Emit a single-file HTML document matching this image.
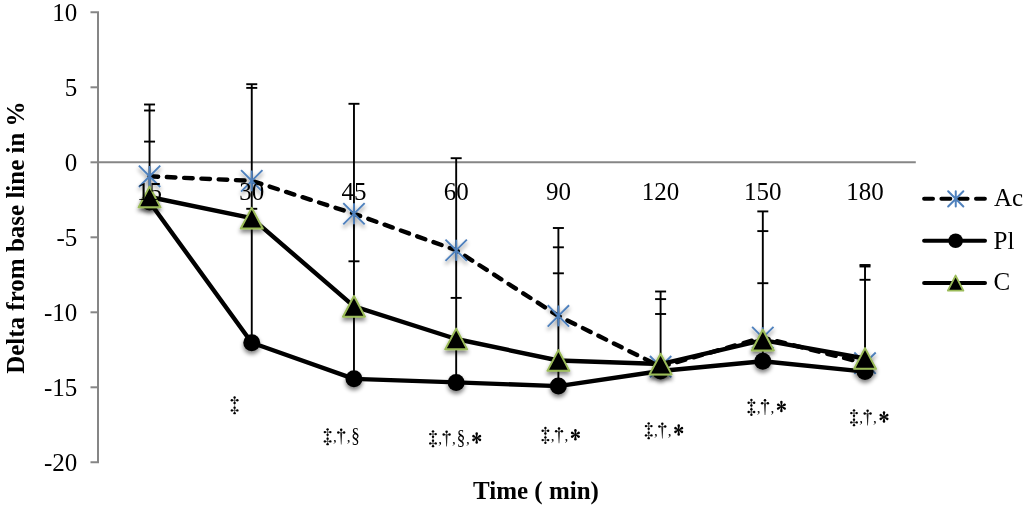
<!DOCTYPE html>
<html><head><meta charset="utf-8"><style>
html,body{margin:0;padding:0;background:#fff;width:1024px;height:508px;overflow:hidden}
svg{display:block;will-change:transform}
text{font-family:"Liberation Serif",serif;fill:#000}
</style></head><body>
<svg width="1024" height="508" viewBox="0 0 1024 508">
<defs>
<filter id="sh" x="-20%" y="-20%" width="140%" height="140%">
<feGaussianBlur in="SourceAlpha" stdDeviation="2.2"/>
<feOffset dx="0" dy="3" result="b"/>
<feComponentTransfer><feFuncA type="linear" slope="0.5"/></feComponentTransfer>
<feMerge><feMergeNode/><feMergeNode in="SourceGraphic"/></feMerge>
</filter>
</defs>
<rect width="1024" height="508" fill="#fff"/>

<g stroke="#868686" stroke-width="2" fill="none">
<path d="M90.5 12.3H98.0V462.3H90.5"/>
<path d="M90.5 87.3H98.0"/>
<path d="M90.5 162.3H98.0"/>
<path d="M90.5 237.3H98.0"/>
<path d="M90.5 312.3H98.0"/>
<path d="M90.5 387.3H98.0"/>
<path d="M98.0 162.3H915.8"/>
</g>
<g font-size="25" text-anchor="end">
<text x="77.3" y="20.5">10</text>
<text x="77.3" y="95.5">5</text>
<text x="77.3" y="170.5">0</text>
<text x="77.3" y="245.5">-5</text>
<text x="77.3" y="320.5">-10</text>
<text x="77.3" y="395.5">-15</text>
<text x="77.3" y="470.5">-20</text>
</g>
<g stroke="#000" stroke-width="1.9" fill="none">
<path d="M149.55 104.5V202.0"/>
<path d="M144.05 104.5H155.05"/>
<path d="M144.05 110.5H155.05"/>
<path d="M144.05 141.6H155.05"/>
<path d="M251.76 84.2V342.7"/>
<path d="M246.26 84.2H257.26"/>
<path d="M246.26 87.9H257.26"/>
<path d="M246.26 208.8H257.26"/>
<path d="M353.97 103.8V378.9"/>
<path d="M348.47 103.8H359.47"/>
<path d="M348.47 261.3H359.47"/>
<path d="M456.18 158.2V382.4"/>
<path d="M450.68 158.2H461.68"/>
<path d="M450.68 297.9H461.68"/>
<path d="M558.39 228.0V386.1"/>
<path d="M552.89 228.0H563.89"/>
<path d="M552.89 247.3H563.89"/>
<path d="M552.89 273.3H563.89"/>
<path d="M660.60 291.5V371.0"/>
<path d="M655.10 291.5H666.10"/>
<path d="M655.10 299.1H666.10"/>
<path d="M655.10 314.0H666.10"/>
<path d="M762.81 211.4V361.2"/>
<path d="M757.31 211.4H768.31"/>
<path d="M757.31 231.1H768.31"/>
<path d="M757.31 283.2H768.31"/>
<path d="M865.02 265.0V371.6"/>
<path d="M859.52 265.0H870.52"/>
<path d="M859.52 266.5H870.52"/>
<path d="M859.52 279.8H870.52"/>
</g>
<g fill="#000">
<path d="M234.60 400.25V410.39" stroke="#999" stroke-width="0.9"/><path d="M234.60 400.25L234.60 397.50" stroke="#555" stroke-width="0.9"/><circle cx="234.60" cy="397.50" r="1.2"/><path d="M234.60 400.25L231.85 400.25" stroke="#555" stroke-width="0.9"/><circle cx="231.85" cy="400.25" r="1.2"/><path d="M234.60 400.25L237.35 400.25" stroke="#555" stroke-width="0.9"/><circle cx="237.35" cy="400.25" r="1.2"/><path d="M234.60 400.25L234.60 403.00" stroke="#555" stroke-width="0.9"/><circle cx="234.60" cy="403.00" r="1.2"/><path d="M234.60 410.39L234.60 407.64" stroke="#555" stroke-width="0.9"/><circle cx="234.60" cy="407.64" r="1.2"/><path d="M234.60 410.39L231.85 410.39" stroke="#555" stroke-width="0.9"/><circle cx="231.85" cy="410.39" r="1.2"/><path d="M234.60 410.39L237.35 410.39" stroke="#555" stroke-width="0.9"/><circle cx="237.35" cy="410.39" r="1.2"/><path d="M234.60 410.39L234.60 413.14" stroke="#555" stroke-width="0.9"/><circle cx="234.60" cy="413.14" r="1.2"/>
<path d="M327.60 432.10V441.40" stroke="#999" stroke-width="0.9"/><path d="M327.60 432.10L327.60 429.35" stroke="#555" stroke-width="0.9"/><circle cx="327.60" cy="429.35" r="1.2"/><path d="M327.60 432.10L324.85 432.10" stroke="#555" stroke-width="0.9"/><circle cx="324.85" cy="432.10" r="1.2"/><path d="M327.60 432.10L330.35 432.10" stroke="#555" stroke-width="0.9"/><circle cx="330.35" cy="432.10" r="1.2"/><path d="M327.60 432.10L327.60 434.85" stroke="#555" stroke-width="0.9"/><circle cx="327.60" cy="434.85" r="1.2"/><path d="M327.60 441.40L327.60 438.65" stroke="#555" stroke-width="0.9"/><circle cx="327.60" cy="438.65" r="1.2"/><path d="M327.60 441.40L324.85 441.40" stroke="#555" stroke-width="0.9"/><circle cx="324.85" cy="441.40" r="1.2"/><path d="M327.60 441.40L330.35 441.40" stroke="#555" stroke-width="0.9"/><circle cx="330.35" cy="441.40" r="1.2"/><path d="M327.60 441.40L327.60 444.15" stroke="#555" stroke-width="0.9"/><circle cx="327.60" cy="444.15" r="1.2"/>
<text x="332.90" y="441.95" font-size="15">,</text>
<path d="M340.20 432.60L342.20 432.60L341.50 444.50L340.90 444.50Z" fill="#222"/><path d="M341.20 432.60L341.20 429.70" stroke="#555" stroke-width="0.9"/><circle cx="341.20" cy="429.70" r="1.25"/><path d="M341.20 432.60L338.30 432.60" stroke="#555" stroke-width="0.9"/><circle cx="338.30" cy="432.60" r="1.25"/><path d="M341.20 432.60L344.10 432.60" stroke="#555" stroke-width="0.9"/><circle cx="344.10" cy="432.60" r="1.25"/>
<text x="346.70" y="441.95" font-size="15">,</text>
<text transform="translate(355.60 442.30) scale(0.85 1)" font-size="20" text-anchor="middle">§</text>
<path d="M433.00 434.10V443.40" stroke="#999" stroke-width="0.9"/><path d="M433.00 434.10L433.00 431.35" stroke="#555" stroke-width="0.9"/><circle cx="433.00" cy="431.35" r="1.2"/><path d="M433.00 434.10L430.25 434.10" stroke="#555" stroke-width="0.9"/><circle cx="430.25" cy="434.10" r="1.2"/><path d="M433.00 434.10L435.75 434.10" stroke="#555" stroke-width="0.9"/><circle cx="435.75" cy="434.10" r="1.2"/><path d="M433.00 434.10L433.00 436.85" stroke="#555" stroke-width="0.9"/><circle cx="433.00" cy="436.85" r="1.2"/><path d="M433.00 443.40L433.00 440.65" stroke="#555" stroke-width="0.9"/><circle cx="433.00" cy="440.65" r="1.2"/><path d="M433.00 443.40L430.25 443.40" stroke="#555" stroke-width="0.9"/><circle cx="430.25" cy="443.40" r="1.2"/><path d="M433.00 443.40L435.75 443.40" stroke="#555" stroke-width="0.9"/><circle cx="435.75" cy="443.40" r="1.2"/><path d="M433.00 443.40L433.00 446.15" stroke="#555" stroke-width="0.9"/><circle cx="433.00" cy="446.15" r="1.2"/>
<text x="438.30" y="443.95" font-size="15">,</text>
<path d="M445.60 434.60L447.60 434.60L446.90 446.50L446.30 446.50Z" fill="#222"/><path d="M446.60 434.60L446.60 431.70" stroke="#555" stroke-width="0.9"/><circle cx="446.60" cy="431.70" r="1.25"/><path d="M446.60 434.60L443.70 434.60" stroke="#555" stroke-width="0.9"/><circle cx="443.70" cy="434.60" r="1.25"/><path d="M446.60 434.60L449.50 434.60" stroke="#555" stroke-width="0.9"/><circle cx="449.50" cy="434.60" r="1.25"/>
<text x="452.10" y="443.95" font-size="15">,</text>
<text transform="translate(461.00 444.30) scale(0.85 1)" font-size="20" text-anchor="middle">§</text>
<text x="465.90" y="443.95" font-size="15">,</text>
<path transform="translate(476.70 438.00) rotate(-90)" d="M0 -0.35L4.5 -1.25A1.25 1.25 0 0 1 4.5 1.25L0 0.35Z"/><path transform="translate(476.70 438.00) rotate(90)" d="M0 -0.35L4.5 -1.25A1.25 1.25 0 0 1 4.5 1.25L0 0.35Z"/><path transform="translate(476.70 438.00) rotate(-30)" d="M0 -0.35L3.8 -1.25A1.25 1.25 0 0 1 3.8 1.25L0 0.35Z"/><path transform="translate(476.70 438.00) rotate(30)" d="M0 -0.35L3.8 -1.25A1.25 1.25 0 0 1 3.8 1.25L0 0.35Z"/><path transform="translate(476.70 438.00) rotate(150)" d="M0 -0.35L3.8 -1.25A1.25 1.25 0 0 1 3.8 1.25L0 0.35Z"/><path transform="translate(476.70 438.00) rotate(210)" d="M0 -0.35L3.8 -1.25A1.25 1.25 0 0 1 3.8 1.25L0 0.35Z"/>
<path d="M545.40 430.80V440.10" stroke="#999" stroke-width="0.9"/><path d="M545.40 430.80L545.40 428.05" stroke="#555" stroke-width="0.9"/><circle cx="545.40" cy="428.05" r="1.2"/><path d="M545.40 430.80L542.65 430.80" stroke="#555" stroke-width="0.9"/><circle cx="542.65" cy="430.80" r="1.2"/><path d="M545.40 430.80L548.15 430.80" stroke="#555" stroke-width="0.9"/><circle cx="548.15" cy="430.80" r="1.2"/><path d="M545.40 430.80L545.40 433.55" stroke="#555" stroke-width="0.9"/><circle cx="545.40" cy="433.55" r="1.2"/><path d="M545.40 440.10L545.40 437.35" stroke="#555" stroke-width="0.9"/><circle cx="545.40" cy="437.35" r="1.2"/><path d="M545.40 440.10L542.65 440.10" stroke="#555" stroke-width="0.9"/><circle cx="542.65" cy="440.10" r="1.2"/><path d="M545.40 440.10L548.15 440.10" stroke="#555" stroke-width="0.9"/><circle cx="548.15" cy="440.10" r="1.2"/><path d="M545.40 440.10L545.40 442.85" stroke="#555" stroke-width="0.9"/><circle cx="545.40" cy="442.85" r="1.2"/>
<text x="550.70" y="440.65" font-size="15">,</text>
<path d="M558.00 431.30L560.00 431.30L559.30 443.20L558.70 443.20Z" fill="#222"/><path d="M559.00 431.30L559.00 428.40" stroke="#555" stroke-width="0.9"/><circle cx="559.00" cy="428.40" r="1.25"/><path d="M559.00 431.30L556.10 431.30" stroke="#555" stroke-width="0.9"/><circle cx="556.10" cy="431.30" r="1.25"/><path d="M559.00 431.30L561.90 431.30" stroke="#555" stroke-width="0.9"/><circle cx="561.90" cy="431.30" r="1.25"/>
<text x="564.50" y="440.65" font-size="15">,</text>
<path transform="translate(575.40 434.70) rotate(-90)" d="M0 -0.35L4.5 -1.25A1.25 1.25 0 0 1 4.5 1.25L0 0.35Z"/><path transform="translate(575.40 434.70) rotate(90)" d="M0 -0.35L4.5 -1.25A1.25 1.25 0 0 1 4.5 1.25L0 0.35Z"/><path transform="translate(575.40 434.70) rotate(-30)" d="M0 -0.35L3.8 -1.25A1.25 1.25 0 0 1 3.8 1.25L0 0.35Z"/><path transform="translate(575.40 434.70) rotate(30)" d="M0 -0.35L3.8 -1.25A1.25 1.25 0 0 1 3.8 1.25L0 0.35Z"/><path transform="translate(575.40 434.70) rotate(150)" d="M0 -0.35L3.8 -1.25A1.25 1.25 0 0 1 3.8 1.25L0 0.35Z"/><path transform="translate(575.40 434.70) rotate(210)" d="M0 -0.35L3.8 -1.25A1.25 1.25 0 0 1 3.8 1.25L0 0.35Z"/>
<path d="M648.70 426.10V435.40" stroke="#999" stroke-width="0.9"/><path d="M648.70 426.10L648.70 423.35" stroke="#555" stroke-width="0.9"/><circle cx="648.70" cy="423.35" r="1.2"/><path d="M648.70 426.10L645.95 426.10" stroke="#555" stroke-width="0.9"/><circle cx="645.95" cy="426.10" r="1.2"/><path d="M648.70 426.10L651.45 426.10" stroke="#555" stroke-width="0.9"/><circle cx="651.45" cy="426.10" r="1.2"/><path d="M648.70 426.10L648.70 428.85" stroke="#555" stroke-width="0.9"/><circle cx="648.70" cy="428.85" r="1.2"/><path d="M648.70 435.40L648.70 432.65" stroke="#555" stroke-width="0.9"/><circle cx="648.70" cy="432.65" r="1.2"/><path d="M648.70 435.40L645.95 435.40" stroke="#555" stroke-width="0.9"/><circle cx="645.95" cy="435.40" r="1.2"/><path d="M648.70 435.40L651.45 435.40" stroke="#555" stroke-width="0.9"/><circle cx="651.45" cy="435.40" r="1.2"/><path d="M648.70 435.40L648.70 438.15" stroke="#555" stroke-width="0.9"/><circle cx="648.70" cy="438.15" r="1.2"/>
<text x="654.00" y="435.95" font-size="15">,</text>
<path d="M661.30 426.60L663.30 426.60L662.60 438.50L662.00 438.50Z" fill="#222"/><path d="M662.30 426.60L662.30 423.70" stroke="#555" stroke-width="0.9"/><circle cx="662.30" cy="423.70" r="1.25"/><path d="M662.30 426.60L659.40 426.60" stroke="#555" stroke-width="0.9"/><circle cx="659.40" cy="426.60" r="1.25"/><path d="M662.30 426.60L665.20 426.60" stroke="#555" stroke-width="0.9"/><circle cx="665.20" cy="426.60" r="1.25"/>
<text x="667.80" y="435.95" font-size="15">,</text>
<path transform="translate(678.70 430.00) rotate(-90)" d="M0 -0.35L4.5 -1.25A1.25 1.25 0 0 1 4.5 1.25L0 0.35Z"/><path transform="translate(678.70 430.00) rotate(90)" d="M0 -0.35L4.5 -1.25A1.25 1.25 0 0 1 4.5 1.25L0 0.35Z"/><path transform="translate(678.70 430.00) rotate(-30)" d="M0 -0.35L3.8 -1.25A1.25 1.25 0 0 1 3.8 1.25L0 0.35Z"/><path transform="translate(678.70 430.00) rotate(30)" d="M0 -0.35L3.8 -1.25A1.25 1.25 0 0 1 3.8 1.25L0 0.35Z"/><path transform="translate(678.70 430.00) rotate(150)" d="M0 -0.35L3.8 -1.25A1.25 1.25 0 0 1 3.8 1.25L0 0.35Z"/><path transform="translate(678.70 430.00) rotate(210)" d="M0 -0.35L3.8 -1.25A1.25 1.25 0 0 1 3.8 1.25L0 0.35Z"/>
<path d="M751.40 402.70V412.00" stroke="#999" stroke-width="0.9"/><path d="M751.40 402.70L751.40 399.95" stroke="#555" stroke-width="0.9"/><circle cx="751.40" cy="399.95" r="1.2"/><path d="M751.40 402.70L748.65 402.70" stroke="#555" stroke-width="0.9"/><circle cx="748.65" cy="402.70" r="1.2"/><path d="M751.40 402.70L754.15 402.70" stroke="#555" stroke-width="0.9"/><circle cx="754.15" cy="402.70" r="1.2"/><path d="M751.40 402.70L751.40 405.45" stroke="#555" stroke-width="0.9"/><circle cx="751.40" cy="405.45" r="1.2"/><path d="M751.40 412.00L751.40 409.25" stroke="#555" stroke-width="0.9"/><circle cx="751.40" cy="409.25" r="1.2"/><path d="M751.40 412.00L748.65 412.00" stroke="#555" stroke-width="0.9"/><circle cx="748.65" cy="412.00" r="1.2"/><path d="M751.40 412.00L754.15 412.00" stroke="#555" stroke-width="0.9"/><circle cx="754.15" cy="412.00" r="1.2"/><path d="M751.40 412.00L751.40 414.75" stroke="#555" stroke-width="0.9"/><circle cx="751.40" cy="414.75" r="1.2"/>
<text x="756.70" y="412.55" font-size="15">,</text>
<path d="M764.00 403.20L766.00 403.20L765.30 415.10L764.70 415.10Z" fill="#222"/><path d="M765.00 403.20L765.00 400.30" stroke="#555" stroke-width="0.9"/><circle cx="765.00" cy="400.30" r="1.25"/><path d="M765.00 403.20L762.10 403.20" stroke="#555" stroke-width="0.9"/><circle cx="762.10" cy="403.20" r="1.25"/><path d="M765.00 403.20L767.90 403.20" stroke="#555" stroke-width="0.9"/><circle cx="767.90" cy="403.20" r="1.25"/>
<text x="770.50" y="412.55" font-size="15">,</text>
<path transform="translate(781.40 406.60) rotate(-90)" d="M0 -0.35L4.5 -1.25A1.25 1.25 0 0 1 4.5 1.25L0 0.35Z"/><path transform="translate(781.40 406.60) rotate(90)" d="M0 -0.35L4.5 -1.25A1.25 1.25 0 0 1 4.5 1.25L0 0.35Z"/><path transform="translate(781.40 406.60) rotate(-30)" d="M0 -0.35L3.8 -1.25A1.25 1.25 0 0 1 3.8 1.25L0 0.35Z"/><path transform="translate(781.40 406.60) rotate(30)" d="M0 -0.35L3.8 -1.25A1.25 1.25 0 0 1 3.8 1.25L0 0.35Z"/><path transform="translate(781.40 406.60) rotate(150)" d="M0 -0.35L3.8 -1.25A1.25 1.25 0 0 1 3.8 1.25L0 0.35Z"/><path transform="translate(781.40 406.60) rotate(210)" d="M0 -0.35L3.8 -1.25A1.25 1.25 0 0 1 3.8 1.25L0 0.35Z"/>
<path d="M854.00 413.10V422.40" stroke="#999" stroke-width="0.9"/><path d="M854.00 413.10L854.00 410.35" stroke="#555" stroke-width="0.9"/><circle cx="854.00" cy="410.35" r="1.2"/><path d="M854.00 413.10L851.25 413.10" stroke="#555" stroke-width="0.9"/><circle cx="851.25" cy="413.10" r="1.2"/><path d="M854.00 413.10L856.75 413.10" stroke="#555" stroke-width="0.9"/><circle cx="856.75" cy="413.10" r="1.2"/><path d="M854.00 413.10L854.00 415.85" stroke="#555" stroke-width="0.9"/><circle cx="854.00" cy="415.85" r="1.2"/><path d="M854.00 422.40L854.00 419.65" stroke="#555" stroke-width="0.9"/><circle cx="854.00" cy="419.65" r="1.2"/><path d="M854.00 422.40L851.25 422.40" stroke="#555" stroke-width="0.9"/><circle cx="851.25" cy="422.40" r="1.2"/><path d="M854.00 422.40L856.75 422.40" stroke="#555" stroke-width="0.9"/><circle cx="856.75" cy="422.40" r="1.2"/><path d="M854.00 422.40L854.00 425.15" stroke="#555" stroke-width="0.9"/><circle cx="854.00" cy="425.15" r="1.2"/>
<text x="859.30" y="422.95" font-size="15">,</text>
<path d="M866.60 413.60L868.60 413.60L867.90 425.50L867.30 425.50Z" fill="#222"/><path d="M867.60 413.60L867.60 410.70" stroke="#555" stroke-width="0.9"/><circle cx="867.60" cy="410.70" r="1.25"/><path d="M867.60 413.60L864.70 413.60" stroke="#555" stroke-width="0.9"/><circle cx="864.70" cy="413.60" r="1.25"/><path d="M867.60 413.60L870.50 413.60" stroke="#555" stroke-width="0.9"/><circle cx="870.50" cy="413.60" r="1.25"/>
<text x="873.10" y="422.95" font-size="15">,</text>
<path transform="translate(884.00 417.00) rotate(-90)" d="M0 -0.35L4.5 -1.25A1.25 1.25 0 0 1 4.5 1.25L0 0.35Z"/><path transform="translate(884.00 417.00) rotate(90)" d="M0 -0.35L4.5 -1.25A1.25 1.25 0 0 1 4.5 1.25L0 0.35Z"/><path transform="translate(884.00 417.00) rotate(-30)" d="M0 -0.35L3.8 -1.25A1.25 1.25 0 0 1 3.8 1.25L0 0.35Z"/><path transform="translate(884.00 417.00) rotate(30)" d="M0 -0.35L3.8 -1.25A1.25 1.25 0 0 1 3.8 1.25L0 0.35Z"/><path transform="translate(884.00 417.00) rotate(150)" d="M0 -0.35L3.8 -1.25A1.25 1.25 0 0 1 3.8 1.25L0 0.35Z"/><path transform="translate(884.00 417.00) rotate(210)" d="M0 -0.35L3.8 -1.25A1.25 1.25 0 0 1 3.8 1.25L0 0.35Z"/>
</g>
<polyline points="149.55,176.30 251.76,180.85 353.97,213.75 456.18,250.25 558.39,315.95 660.60,366.70 762.81,337.60 865.02,363.20" fill="none" stroke="#000" stroke-width="4.4" stroke-dasharray="8.6 8.7" stroke-linecap="round" stroke-linejoin="round"/>
<g filter="url(#sh)">
<path d="M138.85 165.60L160.25 187.00M160.25 165.60L138.85 187.00M149.55 165.90V186.70" stroke="#4f81bd" stroke-width="1.9" stroke-linecap="butt" fill="none"/>
<path d="M241.06 170.15L262.46 191.55M262.46 170.15L241.06 191.55M251.76 170.45V191.25" stroke="#4f81bd" stroke-width="1.9" stroke-linecap="butt" fill="none"/>
<path d="M343.27 203.05L364.67 224.45M364.67 203.05L343.27 224.45M353.97 203.35V224.15" stroke="#4f81bd" stroke-width="1.9" stroke-linecap="butt" fill="none"/>
<path d="M445.48 239.55L466.88 260.95M466.88 239.55L445.48 260.95M456.18 239.85V260.65" stroke="#4f81bd" stroke-width="1.9" stroke-linecap="butt" fill="none"/>
<path d="M547.69 305.25L569.09 326.65M569.09 305.25L547.69 326.65M558.39 305.55V326.35" stroke="#4f81bd" stroke-width="1.9" stroke-linecap="butt" fill="none"/>
<path d="M649.90 356.00L671.30 377.40M671.30 356.00L649.90 377.40M660.60 356.30V377.10" stroke="#4f81bd" stroke-width="1.9" stroke-linecap="butt" fill="none"/>
<path d="M752.11 326.90L773.51 348.30M773.51 326.90L752.11 348.30M762.81 327.20V348.00" stroke="#4f81bd" stroke-width="1.9" stroke-linecap="butt" fill="none"/>
<path d="M854.32 352.50L875.72 373.90M875.72 352.50L854.32 373.90M865.02 352.80V373.60" stroke="#4f81bd" stroke-width="1.9" stroke-linecap="butt" fill="none"/>
</g>
<polyline points="149.55,202.00 251.76,342.70 353.97,378.85 456.18,382.40 558.39,386.10 660.60,371.00 762.81,361.25 865.02,371.60" fill="none" stroke="#000" stroke-width="4.4" stroke-linejoin="round"/>
<g filter="url(#sh)">
<circle cx="149.55" cy="202.00" r="8.5" fill="#000"/>
<circle cx="251.76" cy="342.70" r="8.5" fill="#000"/>
<circle cx="353.97" cy="378.85" r="8.5" fill="#000"/>
<circle cx="456.18" cy="382.40" r="8.5" fill="#000"/>
<circle cx="558.39" cy="386.10" r="8.5" fill="#000"/>
<circle cx="660.60" cy="371.00" r="8.5" fill="#000"/>
<circle cx="762.81" cy="361.25" r="8.5" fill="#000"/>
<circle cx="865.02" cy="371.60" r="8.5" fill="#000"/>
</g>
<polyline points="149.55,197.00 251.76,218.20 353.97,306.35 456.18,339.00 558.39,360.50 660.60,364.05 762.81,340.10 865.02,358.50" fill="none" stroke="#000" stroke-width="4.4" stroke-linejoin="round"/>
<g filter="url(#sh)">
<path d="M149.55 186.65L160.55 207.35L138.55 207.35Z" fill="#000" stroke="#9bbb59" stroke-width="2" stroke-linejoin="round"/>
<path d="M251.76 207.85L262.76 228.55L240.76 228.55Z" fill="#000" stroke="#9bbb59" stroke-width="2" stroke-linejoin="round"/>
<path d="M353.97 296.00L364.97 316.70L342.97 316.70Z" fill="#000" stroke="#9bbb59" stroke-width="2" stroke-linejoin="round"/>
<path d="M456.18 328.65L467.18 349.35L445.18 349.35Z" fill="#000" stroke="#9bbb59" stroke-width="2" stroke-linejoin="round"/>
<path d="M558.39 350.15L569.39 370.85L547.39 370.85Z" fill="#000" stroke="#9bbb59" stroke-width="2" stroke-linejoin="round"/>
<path d="M660.60 353.70L671.60 374.40L649.60 374.40Z" fill="#000" stroke="#9bbb59" stroke-width="2" stroke-linejoin="round"/>
<path d="M762.81 329.75L773.81 350.45L751.81 350.45Z" fill="#000" stroke="#9bbb59" stroke-width="2" stroke-linejoin="round"/>
<path d="M865.02 348.15L876.02 368.85L854.02 368.85Z" fill="#000" stroke="#9bbb59" stroke-width="2" stroke-linejoin="round"/>
</g>
<g font-size="25" text-anchor="middle">
<text x="149.6" y="199.6">15</text>
<text x="251.8" y="199.6">30</text>
<text x="354.0" y="199.6">45</text>
<text x="456.2" y="199.6">60</text>
<text x="558.4" y="199.6">90</text>
<text x="660.6" y="199.6">120</text>
<text x="762.8" y="199.6">150</text>
<text x="865.0" y="199.6">180</text>
</g>
<g>
<path d="M924.1 198.7H985.0" stroke="#000" stroke-width="4" stroke-dasharray="8.9 8.4" stroke-linecap="round" fill="none"/>
<path d="M948.15 191.30L963.35 206.50M963.35 191.30L948.15 206.50M955.75 191.30V206.50" stroke="#4f81bd" stroke-width="2" stroke-linecap="round" fill="none"/>
<path d="M924.1 240.8H985.0" stroke="#000" stroke-width="4" stroke-linecap="round" fill="none"/>
<circle cx="955.6" cy="240.75" r="7.3" fill="#000"/>
<path d="M924.1 283H985.0" stroke="#000" stroke-width="4" stroke-linecap="round" fill="none"/>
<path d="M955.60 275.60L963.35 290.60L947.85 290.60Z" fill="#000" stroke="#9bbb59" stroke-width="1.9" stroke-linejoin="round"/>
</g>
<g font-size="25">
<text x="994" y="206.4">Ac</text><text x="993.5" y="248.8">Pl</text><text x="993.5" y="290.1">C</text>
</g>
<text x="536" y="499.4" font-size="25" font-weight="bold" text-anchor="middle">Time ( min)</text>
<text transform="translate(24.3,237.6) rotate(-90)" font-size="25" font-weight="bold" text-anchor="middle">Delta from base line in %</text>
</svg></body></html>
